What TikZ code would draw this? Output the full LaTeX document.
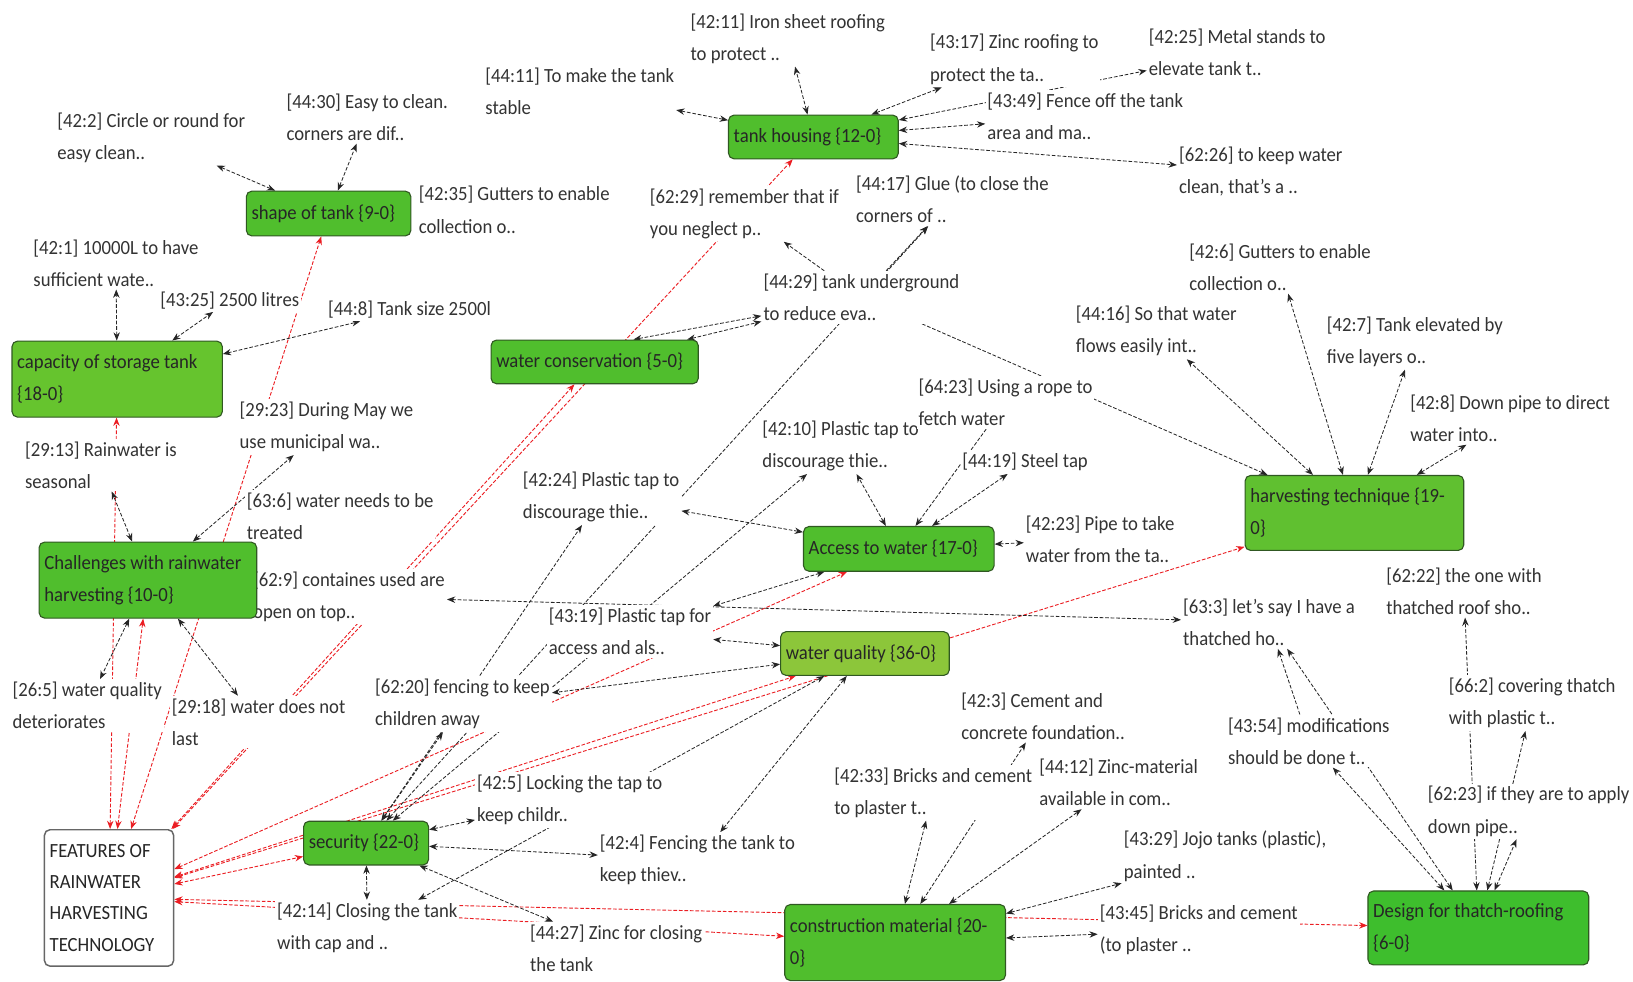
\documentclass[tikz,border=0pt]{standalone}
\usepackage{fontspec}
\setmainfont[FakeStretch=0.93]{Carlito}
\usetikzlibrary{arrows.meta}

\definecolor{codeborder}{RGB}{48,88,34}
\definecolor{codegreen}{RGB}{80,190,45}
\definecolor{capgreen}{RGB}{102,196,46}
\definecolor{qualgreen}{RGB}{140,198,58}
\definecolor{harvgreen}{RGB}{96,192,48}
\definecolor{dsgngreen}{RGB}{62,190,45}
\definecolor{proprd}{RGB}{235,30,35}

\pgfdeclarelayer{bg}
\pgfsetlayers{bg,main}

\tikzset{
  quote/.style={anchor=north west, align=left, fill=white, inner xsep=1pt, inner ysep=1.5pt,
    text=black!80, font=\fontsize{11}{17.6}\selectfont},
  code/.style={anchor=north west, draw=codeborder, rounded corners=3pt, line width=0.6pt,
    fill=codegreen, align=flush left, inner xsep=0.1cm, inner ysep=0pt, text=black!85,
    font=\fontsize{11}{17.6}\selectfont},
  link/.style={<->, black!85, line width=0.45pt, dash pattern=on 2pt off 1pt},
  prop/.style={<->, proprd, line width=0.5pt, dash pattern=on 2pt off 1pt}
}

\begin{document}
\begin{tikzpicture}[x=0.02cm, y=-0.02cm, >={Stealth[length=4.5pt,width=3.5pt]}]
  \useasboundingbox (0,0) rectangle (1568,942);

  % quotations
  \node[quote] (q4211) at (661,10) {[42:11] Iron sheet roofing\\to protect ..};
  \node[quote] (q4411) at (464,62) {[44:11] To make the tank\\stable};
  \node[quote] (q4430) at (273,87) {[44:30] Easy to clean.\\corners are dif..};
  \node[quote] (q422) at (53,105) {[42:2] Circle or round for\\easy clean..};
  \node[quote] (q4317) at (891,30) {[43:17] Zinc roofing to\\protect the ta..};
  \node[quote] (q4225) at (1101,25) {[42:25] Metal stands to\\elevate tank t..};
  \node[quote] (q4349) at (946,86) {[43:49] Fence off the tank\\area and ma..};
  \node[quote] (q6226) at (1130,138) {[62:26] to keep water\\clean, that’s a ..};
  \node[quote] (q4417) at (820,166) {[44:17] Glue (to close the\\corners of ..};
  \node[quote] (q6229) at (622,178) {[62:29] remember that if\\you neglect p..};
  \node[quote] (q4235) at (400,176) {[42:35] Gutters to enable\\collection o..};
  \node[quote] (q421) at (30,227) {[42:1] 10000L to have\\sufficient wate..};
  \node[quote] (q4325) at (152,277) {[43:25] 2500 litres};
  \node[quote] (q448) at (313,286) {[44:8] Tank size 2500l};
  \node[quote] (q4429) at (731,260) {[44:29] tank underground\\to reduce eva..};
  \node[quote] (q426) at (1140,231) {[42:6] Gutters to enable\\collection o..};
  \node[quote] (q4416) at (1031,291) {[44:16] So that water\\flows easily int..};
  \node[quote] (q427) at (1272,301) {[42:7] Tank elevated by\\five layers o..};
  \node[quote] (q428) at (1352,376) {[42:8] Down pipe to direct\\water into..};
  \node[quote] (q4210) at (730,401) {[42:10] Plastic tap to\\discourage thie..};
  \node[quote] (q6423) at (880,361) {[64:23] Using a rope to\\fetch water};
  \node[quote] (q4419) at (922,432) {[44:19] Steel tap};
  \node[quote] (q2923) at (228,383) {[29:23] During May we\\use municipal wa..};
  \node[quote] (q2913) at (22,421) {[29:13] Rainwater is\\seasonal};
  \node[quote] (q4224) at (500,450) {[42:24] Plastic tap to\\discourage thie..};
  \node[quote] (q636) at (235,470) {[63:6] water needs to be\\treated};
  \node[quote] (q4223) at (983,492) {[42:23] Pipe to take\\water from the ta..};
  \node[quote] (q629) at (241,546) {[62:9] containes used are\\open on top..};
  \node[quote] (q6222) at (1329,542) {[62:22] the one with\\thatched roof sho..};
  \node[quote] (q633) at (1134,572) {[63:3] let’s say I have a\\thatched ho..};
  \node[quote] (q4319) at (525,581) {[43:19] Plastic tap for\\access and als..};
  \node[quote] (q662) at (1389,648) {[66:2] covering thatch\\with plastic t..};
  \node[quote] (q265) at (10,652) {[26:5] water quality\\deteriorates};
  \node[quote] (q6220) at (358,649) {[62:20] fencing to keep\\children away};
  \node[quote] (q2918) at (163,668) {[29:18] water does not\\last};
  \node[quote] (q423) at (921,662) {[42:3] Cement and\\concrete foundation..};
  \node[quote] (q4354) at (1177,686) {[43:54] modifications\\should be done t..};
  \node[quote] (q4233) at (799,734) {[42:33] Bricks and cement\\to plaster t..};
  \node[quote] (q4212) at (996,726) {[44:12] Zinc-material\\available in com..};
  \node[quote] (q425) at (456,741) {[42:5] Locking the tap to\\keep childr..};
  \node[quote] (q6223) at (1369,752) {[62:23] if they are to apply\\down pipe..};
  \node[quote] (q424) at (574,799) {[42:4] Fencing the tank to\\keep thiev..};
  \node[quote] (q4329) at (1077,795) {[43:29] Jojo tanks (plastic),\\painted ..};
  \node[quote] (q4214) at (264,864) {[42:14] Closing the tank\\with cap and ..};
  \node[quote] (q4345) at (1054,866) {[43:45] Bricks and cement\\(to plaster ..};
  \node[quote] (q4427) at (507,885) {[44:27] Zinc for closing\\the tank};

  % codes
  \node[code, minimum width=3.16cm, minimum height=0.86cm, text width=2.96cm] (shape) at (236,183) {shape of tank \{9-0\}};
  \node[code, minimum width=3.26cm, minimum height=0.84cm, text width=3.06cm] (housing) at (699,110) {tank housing \{12-0\}};
  \node[code, fill=capgreen, minimum width=4.04cm, minimum height=1.46cm, text width=3.84cm] (capac) at (11,327) {capacity of storage tank\\\{18-0\}};
  \node[code, minimum width=3.98cm, minimum height=0.84cm, text width=3.78cm] (wcons) at (471,326) {water conservation \{5-0\}};
  \node[code, minimum width=4.18cm, minimum height=1.46cm, text width=3.98cm] (chall) at (37,520) {Challenges with rainwater\\harvesting \{10-0\}};
  \node[code, fill=harvgreen, minimum width=4.2cm, minimum height=1.44cm, text width=4.0cm] (harv) at (1195,456) {harvesting technique \{19-\\0\}};
  \node[code, minimum width=3.66cm, minimum height=0.86cm, text width=3.46cm] (access) at (771,505) {Access to water \{17-0\}};
  \node[code, fill=qualgreen, minimum width=3.24cm, minimum height=0.84cm, text width=3.04cm] (wqual) at (749,606) {water quality \{36-0\}};
  \node[code, minimum width=2.4cm, minimum height=0.84cm, text width=2.2cm] (secur) at (291,788) {security \{22-0\}};
  \node[code, minimum width=4.24cm, minimum height=1.46cm, text width=4.04cm] (constr) at (753,868) {construction material \{20-\\0\}};
  \node[code, fill=dsgngreen, minimum width=4.24cm, minimum height=1.42cm, text width=4.04cm] (design) at (1313,855) {Design for thatch-roofing\\\{6-0\}};
  \node[code, fill=white, draw=black!60, line width=0.8pt, minimum width=2.48cm, minimum height=2.62cm, text width=2.28cm,
    font=\fontsize{11}{17}\selectfont] (features) at (42,796) {FEATURES OF\\RAINWATER\\HARVESTING\\TECHNOLOGY};

  \begin{pgfonlayer}{bg}
    \fill[white] (0,0) rectangle (1568,942);
    % property links to the features box
    \foreach \c in {capac, chall, shape, wcons, housing, access, wqual, harv, secur, constr, design}
      \draw[prop] (features) -- (\c);
    % shape and capacity
    \draw[link] (shape) -- (q422);
    \draw[link] (shape) -- (q4430);
    \draw[link] (capac) -- (q421);
    \draw[link] (capac) -- (q4325);
    \draw[link] (capac) -- (q448);
    % tank housing
    \draw[link] (housing) -- (q4411);
    \draw[link] (housing) -- (q4211);
    \draw[link] (housing) -- (q4317);
    \draw[link] (housing) -- (q4349);
    \draw[link] (housing) -- (q4225);
    \draw[link] (housing) -- (q6226);
    % water conservation
    \draw[link] (wcons) -- (q4429);
    \draw[link] (q4429) -- (wcons.30);
    \draw[link, ->] (q4429) -- (q6229);
    \draw[link, ->] (q4429) -- (q4417);
    \draw[link, ->] (q4429) -- (harv);
    % harvesting technique
    \foreach \q in {q4416, q426, q427, q428}
      \draw[link] (harv) -- (\q);
    % access to water
    \foreach \q in {q4210, q4419, q4224, q4223, q4319}
      \draw[link] (access) -- (\q);
    \draw[link, ->] (q6423) -- (access);
    \draw[link] (q629) -- (q633);
    % water quality
    \foreach \q in {q4319, q6220, q4214, q424}
      \draw[link] (wqual) -- (\q);
    % security
    \foreach \q in {q425, q424, q4214, q4427, q6220, q4224, q4417, q4210}
      \draw[link] (secur) -- (\q);
    % construction material
    \foreach \q in {q4233, q423, q4212, q4329, q4345}
      \draw[link] (constr) -- (\q);
    % design for thatch-roofing
    \foreach \q in {q4354, q633, q6222, q662, q6223}
      \draw[link] (design) -- (\q);
    \draw[link, ->] (q4354) -- (q633);
    % challenges
    \foreach \q in {q2913, q2923, q265, q2918}
      \draw[link] (chall) -- (\q);
  \end{pgfonlayer}
\end{tikzpicture}
\end{document}
